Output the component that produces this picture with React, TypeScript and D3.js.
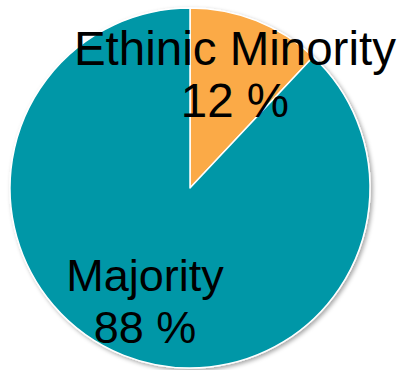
import React from "react";
import * as d3 from "d3";

const categories = ["Ethinic Minority", "Majority"];
const values = [12, 88];
const valueLabels = ["12 %", "88 %"];
const colors = ["#FBAA47", "#0097A7"];

const LABEL_FONT_SIZES = [47.5, 45];

export default function App() {
  const width = 401;
  const height = 370;
  const cx = 190;
  const cy = 188;
  const radius = 180;
  const labelRadius = 122;

  const pie = d3.pie<number>().sort(null).value((d) => d);
  const arcs = pie(values);
  const arc = d3.arc<d3.PieArcDatum<number>>().innerRadius(0).outerRadius(radius);
  const labelArc = d3
    .arc<d3.PieArcDatum<number>>()
    .innerRadius(labelRadius)
    .outerRadius(labelRadius);

  return (
    <svg
      width={width}
      height={height}
      style={{ position: "absolute", left: 0, top: 0 }}
    >
      <defs>
        <filter id="shadow" x="-10%" y="-10%" width="120%" height="120%">
          <feDropShadow dx="2" dy="2" stdDeviation="2" floodColor="#000" floodOpacity="0.35" />
        </filter>
      </defs>
      <g transform={`translate(${cx},${cy})`}>
        <g filter="url(#shadow)">
          {arcs.map((a, i) => (
            <path
              key={categories[i]}
              d={arc(a) || ""}
              fill={colors[i]}
              stroke="#fff"
              strokeWidth={1.5}
              strokeLinejoin="round"
            />
          ))}
        </g>
        {arcs.map((a, i) => {
          const [x, y] = labelArc.centroid(a);
          const fs = LABEL_FONT_SIZES[i];
          return (
            <text
              key={"l" + i}
              x={x}
              y={y}
              textAnchor="middle"
              fontFamily="'Liberation Sans', Arial, sans-serif"
              fontSize={fs}
              fill="#000"
            >
              <tspan x={x} y={y - 10}>
                {categories[i]}
              </tspan>
              <tspan x={x} y={y + 42}>
                {valueLabels[i]}
              </tspan>
            </text>
          );
        })}
      </g>
    </svg>
  );
}
